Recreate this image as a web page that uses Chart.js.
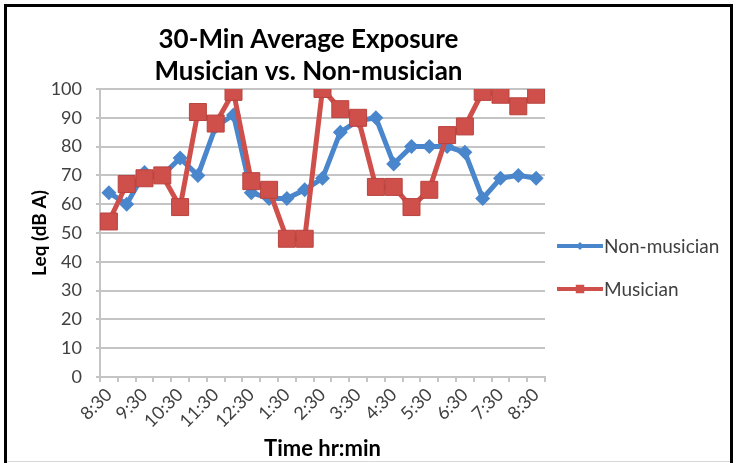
<!DOCTYPE html>
<html>
<head>
<meta charset="utf-8">
<script src="https://cdn.jsdelivr.net/npm/chart.js@4"></script>
<style>
    body { margin: 0; background: #fff; }
    #wrap { position: relative; width: 736px; height: 463px; }
</style>
</head>
<body>
<div id="wrap"><canvas id="exposureChart" width="736" height="463"></canvas></div>
<script>
// 30-minute slots from 8:30 to 8:30
var times = ['8:30', '9:00', '9:30', '10:00', '10:30', '11:00', '11:30', '12:00', '12:30',
    '1:00', '1:30', '2:00', '2:30', '3:00', '3:30', '4:00', '4:30', '5:00', '5:30',
    '6:00', '6:30', '7:00', '7:30', '8:00', '8:30'];
var nonMusician = [64, 60, 71, 70, 76, 70, 87, 91, 64, 62, 62, 65, 69, 85, 89, 90, 74, 80, 80, 80, 78, 62, 69, 70, 69];
var musician = [54, 67, 69, 70, 59, 92, 88, 99, 68, 65, 48, 48, 100, 93, 90, 66, 66, 59, 65, 84, 87, 99, 98, 94, 98];
var titleLines = ['30-Min Average Exposure', 'Musician vs. Non-musician'];

var blue = '#4a86cc';
var red = '#cf4f4b';
var textColor = '#404040';
var gridColor = '#c4c4c4';

// frame, title and legend drawn by hand to sit like the original
var decorPlugin = {
    id: 'decor',
    beforeDraw: function (chart) {
        var ctx = chart.ctx;
        ctx.save();
        ctx.fillStyle = '#fff';
        ctx.fillRect(0, 0, chart.width, chart.height);
        ctx.strokeStyle = '#000';
        ctx.lineWidth = 3;
        ctx.beginPath();
        ctx.moveTo(5.5, 463);
        ctx.lineTo(5.5, 5.5);
        ctx.lineTo(731.5, 5.5);
        ctx.lineTo(731.5, 463);
        ctx.stroke();
        ctx.strokeStyle = '#d8d8d8';
        ctx.lineWidth = 1;
        ctx.beginPath();
        ctx.moveTo(7, 461.5);
        ctx.lineTo(730, 461.5);
        ctx.stroke();
        ctx.restore();
    },
    afterDraw: function (chart) {
        var ctx = chart.ctx;
        var area = chart.chartArea;
        ctx.save();
        // title
        ctx.fillStyle = '#000';
        ctx.font = 'bold 26px Lato';
        ctx.textAlign = 'center';
        ctx.textBaseline = 'middle';
        var cx = (area.left + area.right) / 2 - 14;
        ctx.fillText(titleLines[0], cx, 40);
        ctx.fillText(titleLines[1], cx, 72);

        // legend
        var rows = [0, 1];
        rows.forEach(function (i) {
            var ds = chart.data.datasets[i];
            var y = 246 + i * 43;
            ctx.strokeStyle = ds.borderColor;
            ctx.lineWidth = 4;
            ctx.beginPath();
            ctx.moveTo(557, y);
            ctx.lineTo(603, y);
            ctx.stroke();
            ctx.fillStyle = ds.borderColor;
            Chart.helpers.drawPoint(ctx, {
                pointStyle: ds.pointStyle,
                radius: i === 0 ? 4 : 6,
                borderWidth: 0
            }, 580, y);
            ctx.fillStyle = textColor;
            ctx.font = '19px Lato';
            ctx.textAlign = 'left';
            ctx.fillText(ds.label, 604, y + 1);
        });
        ctx.restore();
    }
};

var ctx = document.getElementById('exposureChart').getContext('2d');
var chart = new Chart(ctx, {
    type: 'line',
    data: {
        labels: times,
        datasets: [{
            label: 'Non-musician',
            data: nonMusician,
            borderColor: blue,
            backgroundColor: blue,
            borderWidth: 5,
            pointStyle: 'rectRot',
            pointRadius: 7.5,
            pointBorderWidth: 0,
            tension: 0,
            order: 1
        }, {
            label: 'Musician',
            data: musician,
            borderColor: red,
            backgroundColor: red,
            borderWidth: 5,
            pointStyle: 'rect',
            pointRadius: 12,
            pointBorderWidth: 1,
            pointBorderColor: '#b9433f',
            tension: 0,
            order: 0
        }]
    },
    options: {
        responsive: false,
        animation: false,
        layout: {
            padding: { top: 89, right: 191, bottom: 0, left: 0 }
        },
        plugins: {
            legend: { display: false },
            title: { display: false },
            tooltip: { enabled: false }
        },
        scales: {
            x: {
                offset: true,
                grid: {
                    offset: true,
                    drawOnChartArea: false,
                    drawTicks: true,
                    tickLength: 5,
                    color: gridColor,
                    lineWidth: 2
                },
                border: { color: gridColor, width: 2 },
                ticks: {
                    autoSkip: false,
                    maxRotation: 45,
                    minRotation: 45,
                    padding: 2,
                    color: textColor,
                    font: { family: 'Lato', size: 18 },
                    callback: function (value, index) {
                        return index % 2 === 0 ? times[index] : '';
                    }
                },
                title: {
                    display: true,
                    text: 'Time hr:min',
                    color: '#000',
                    font: { family: 'Lato', size: 22, weight: 'bold' },
                    padding: { top: 0, bottom: 1 }
                },
                afterFit: function (scale) { scale.height = 86; }
            },
            y: {
                min: 0,
                max: 100,
                ticks: {
                    stepSize: 10,
                    padding: 14,
                    color: textColor,
                    font: { family: 'Lato', size: 18 }
                },
                grid: {
                    color: gridColor,
                    lineWidth: 2,
                    tickLength: 4
                },
                border: { color: gridColor, width: 2 },
                title: {
                    display: true,
                    text: 'Leq (dB A)',
                    color: '#000',
                    font: { family: 'Lato', size: 19, weight: 'bold' },
                    padding: { top: 28, bottom: 0 }
                },
                afterFit: function (scale) { scale.width = 100; }
            }
        }
    },
    plugins: [decorPlugin]
});
</script>
</body>
</html>
